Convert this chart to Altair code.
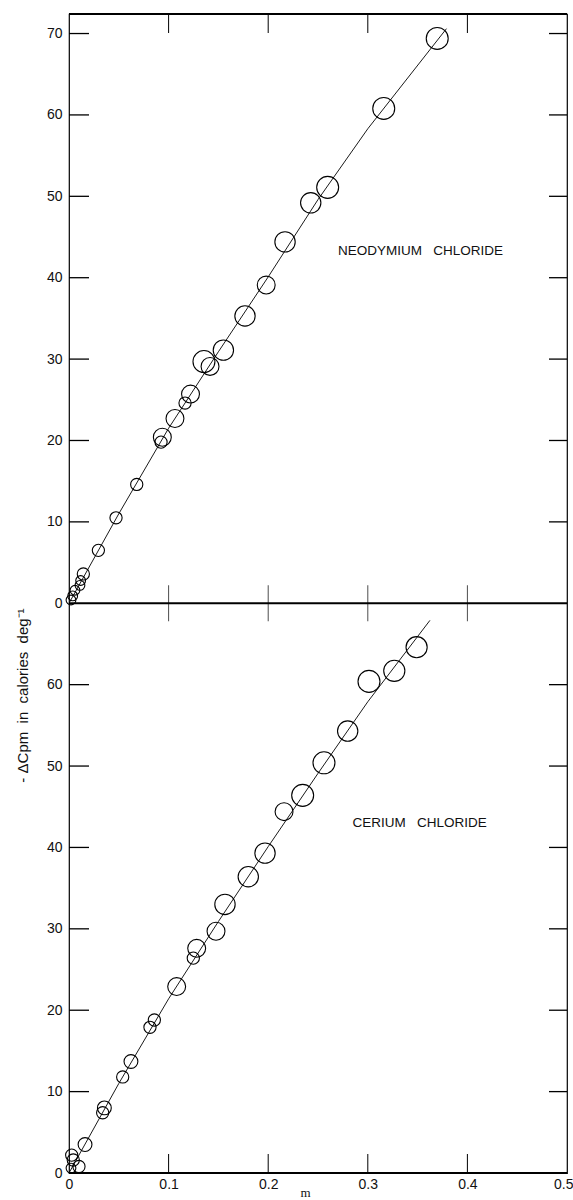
import altair as alt
import pandas as pd

# ---------------- data ----------------
# Neodymium chloride (upper panel): molality m, -dCpm, circle radius (uncertainty, same units as -dCpm)
nd_m = [0.002, 0.0037, 0.006, 0.011, 0.0117, 0.0144, 0.0295, 0.0472, 0.068, 0.0924, 0.0937,
        0.1064, 0.1165, 0.122, 0.1355, 0.1416, 0.155, 0.1767, 0.198, 0.2169, 0.2427, 0.2597,
        0.316, 0.3697]
nd_cp = [0.4, 0.9, 1.6, 2.2, 2.8, 3.6, 6.5, 10.5, 14.6, 19.8, 20.4,
         22.7, 24.6, 25.7, 29.7, 29.1, 31.1, 35.3, 39.1, 44.4, 49.2, 51.1,
         60.8, 69.4]
nd_err = [0.6, 0.6, 0.6, 0.6, 0.6, 0.75, 0.75, 0.75, 0.75, 0.75, 1.1,
          1.1, 0.75, 1.1, 1.35, 1.1, 1.25, 1.25, 1.1, 1.25, 1.25, 1.35,
          1.35, 1.35]
nd_line_m = [0, 0.05, 0.1, 0.15, 0.2, 0.25, 0.3, 0.379]
nd_line_cp = [0, 11.0, 21.5, 30.9, 40.1, 49.6, 58.3, 70.6]

# Cerium chloride (lower panel)
ce_m = [0.002, 0.0027, 0.0043, 0.01, 0.0161, 0.0338, 0.0355, 0.0539, 0.0622, 0.0813, 0.0857,
        0.1081, 0.1248, 0.1282, 0.1476, 0.1566, 0.18, 0.1968, 0.2159, 0.2346, 0.256, 0.2798,
        0.3012, 0.3266, 0.349]
ce_cp = [0.6, 2.2, 1.6, 0.8, 3.5, 7.4, 8.0, 11.8, 13.7, 17.9, 18.8,
         22.9, 26.4, 27.6, 29.7, 33.0, 36.4, 39.3, 44.4, 46.4, 50.4, 54.3,
         60.4, 61.7, 64.6]
ce_err = [0.6, 0.75, 0.75, 0.75, 0.85, 0.75, 0.85, 0.75, 0.85, 0.75, 0.75,
          1.1, 0.75, 1.1, 1.1, 1.25, 1.25, 1.25, 1.1, 1.35, 1.35, 1.25,
          1.35, 1.3, 1.3]
ce_line_m = [0, 0.05, 0.1, 0.15, 0.2, 0.25, 0.3, 0.3624]
ce_line_cp = [0, 11.0, 21.4, 30.9, 40.1, 49.1, 57.9, 67.9]

# panel ranges and ticks
CE_MAX = 70.0      # lower panel top
ND_MAX = 72.4      # upper panel top
ce_yticks = [0, 10, 20, 30, 40, 50, 60]
nd_yticks = [0, 10, 20, 30, 40, 50, 60, 70]
x_ticks = [0, 0.1, 0.2, 0.3, 0.4, 0.5]

NB = "\u00a0"
panel_labels = [f"NEODYMIUM{NB}{NB}{NB}CHLORIDE", f"CERIUM{NB}{NB}{NB}CHLORIDE"]
label_m = [0.353, 0.352]
label_cp = [43.3, 43.0]
label_panel = ["Nd", "Ce"]

y_title = f"-{NB}\u0394Cpm{NB}{NB}in{NB}{NB}calories{NB}{NB}deg\u207b\u00b9"
x_title = "m"

# ---------------- tables ----------------
pts = pd.concat([
    pd.DataFrame({"m": nd_m, "cp": nd_cp, "err": nd_err, "panel": "Nd"}),
    pd.DataFrame({"m": ce_m, "cp": ce_cp, "err": ce_err, "panel": "Ce"}),
])
lines = pd.concat([
    pd.DataFrame({"m": nd_line_m, "cp": nd_line_cp, "panel": "Nd"}),
    pd.DataFrame({"m": ce_line_m, "cp": ce_line_cp, "panel": "Ce"}),
])
labels = pd.DataFrame({"m": label_m, "cp": label_cp, "panel": label_panel, "text": panel_labels})
ytick_df = pd.concat([
    pd.DataFrame({"cp": [t for t in nd_yticks if t > 0], "panel": "Nd"}),
    pd.DataFrame({"cp": [t for t in ce_yticks if t > 0], "panel": "Ce"}),
])
xtick_df = pd.DataFrame({"m": [t for t in x_ticks if 0 < t < 0.5]})
frame_df = pd.DataFrame({"cp": [0, 0, ND_MAX], "panel": ["Ce", "Nd", "Nd"]})

offset_expr = f"datum.cp + (datum.panel == 'Nd' ? {CE_MAX} : 0)"
YMAX = CE_MAX + ND_MAX

W = 498
H = 1159

xs = alt.Scale(domain=[0, 0.5], nice=False, zero=False)
ys = alt.Scale(domain=[0, YMAX], nice=False, zero=False)

axis_vals = ce_yticks + [t + CE_MAX for t in nd_yticks]

FONT = "Liberation Sans"

base_x = alt.X("m:Q", scale=xs, axis=alt.Axis(
    values=x_ticks, labelExpr="datum.value == 0 ? '0' : format(datum.value, '.1f')",
    labelFlush=False, ticks=False, domain=False, grid=False, labelPadding=4,
    labelAlign={"expr": "datum.value >= 0.5 ? 'right' : 'center'"},
    labelOffset={"expr": "datum.value >= 0.5 ? 6 : 0"},
    labelFontSize=14, labelFont=FONT, labelColor="#111",
    title=x_title, titleFont="Liberation Serif", titleFontSize=13, titleFontWeight="normal",
    titleX=236, titleY=19, titleBaseline="middle", titleColor="#111"))
base_y = alt.Y("yp:Q", scale=ys, axis=alt.Axis(
    values=axis_vals, labelExpr=f"datum.value >= {CE_MAX} ? format(datum.value - {CE_MAX}, 'd') : format(datum.value, 'd')",
    labelFlush=False, ticks=False, domain=False, grid=False, labelPadding=7,
    labelFontSize=14, labelFont=FONT, labelColor="#111",
    title=y_title, titleFont=FONT, titleFontSize=15, titleFontWeight="normal",
    titleAngle=270, titleX=-47, titleY=681, titleAlign="center", titleBaseline="middle",
    titleColor="#111"))

lines_layer = alt.Chart(lines).mark_line(color="black", strokeWidth=0.9).encode(
    x=base_x, y=base_y, detail="panel:N"
).transform_calculate(yp=offset_expr)

pts_layer = alt.Chart(pts).mark_point(shape="circle", filled=False, color="black",
                                       strokeWidth=1.1, opacity=1).encode(
    x=alt.X("m:Q", scale=xs),
    y=alt.Y("yp:Q", scale=ys),
    size=alt.Size("err:Q", scale=alt.Scale(type="pow", exponent=2, domain=[0, 1.5], range=[0, 596]),
                  legend=None),
).transform_calculate(yp=offset_expr)

text_layer = alt.Chart(labels).mark_text(font=FONT, fontSize=13.5, color="#111", align="center",
                                         baseline="middle").encode(
    x=alt.X("m:Q", scale=xs), y=alt.Y("yp:Q", scale=ys), text="text:N"
).transform_calculate(yp=offset_expr)

left_ticks = alt.Chart(ytick_df).mark_rule(color="black", strokeWidth=1.3).encode(
    y=alt.Y("yp:Q", scale=ys), x=alt.value(0), x2=alt.value(20)
).transform_calculate(yp=offset_expr)
right_ticks = alt.Chart(ytick_df).mark_rule(color="black", strokeWidth=1.3).encode(
    y=alt.Y("yp:Q", scale=ys), x=alt.value(W - 18), x2=alt.value(W)
).transform_calculate(yp=offset_expr)

top_ticks = alt.Chart(xtick_df).mark_rule(color="black", strokeWidth=1).encode(
    x=alt.X("m:Q", scale=xs), y=alt.value(0), y2=alt.value(19))
bottom_ticks = alt.Chart(xtick_df).mark_rule(color="black", strokeWidth=1).encode(
    x=alt.X("m:Q", scale=xs), y=alt.value(H - 19), y2=alt.value(H))
mid_ticks = alt.Chart(xtick_df).mark_tick(orient="vertical", size=36, thickness=1, color="black").encode(
    x=alt.X("m:Q", scale=xs), y=alt.datum(CE_MAX))

frame_rules = alt.Chart(frame_df).mark_rule(color="black", strokeWidth=2).encode(
    y=alt.Y("yp:Q", scale=ys), x=alt.value(0), x2=alt.value(W)
).transform_calculate(yp=offset_expr)

chart = alt.layer(
    lines_layer, pts_layer, text_layer, left_ticks, right_ticks,
    top_ticks, bottom_ticks, mid_ticks, frame_rules
).properties(
    width=W, height=H,
    autosize=alt.AutoSizeParams(type="none"),
    padding={"left": 69, "top": 14, "right": 6, "bottom": 27},
    background="white",
).configure_view(stroke="black", strokeWidth=1.2)

chart.save("out.html", embed_options={"renderer": "svg", "actions": False})
